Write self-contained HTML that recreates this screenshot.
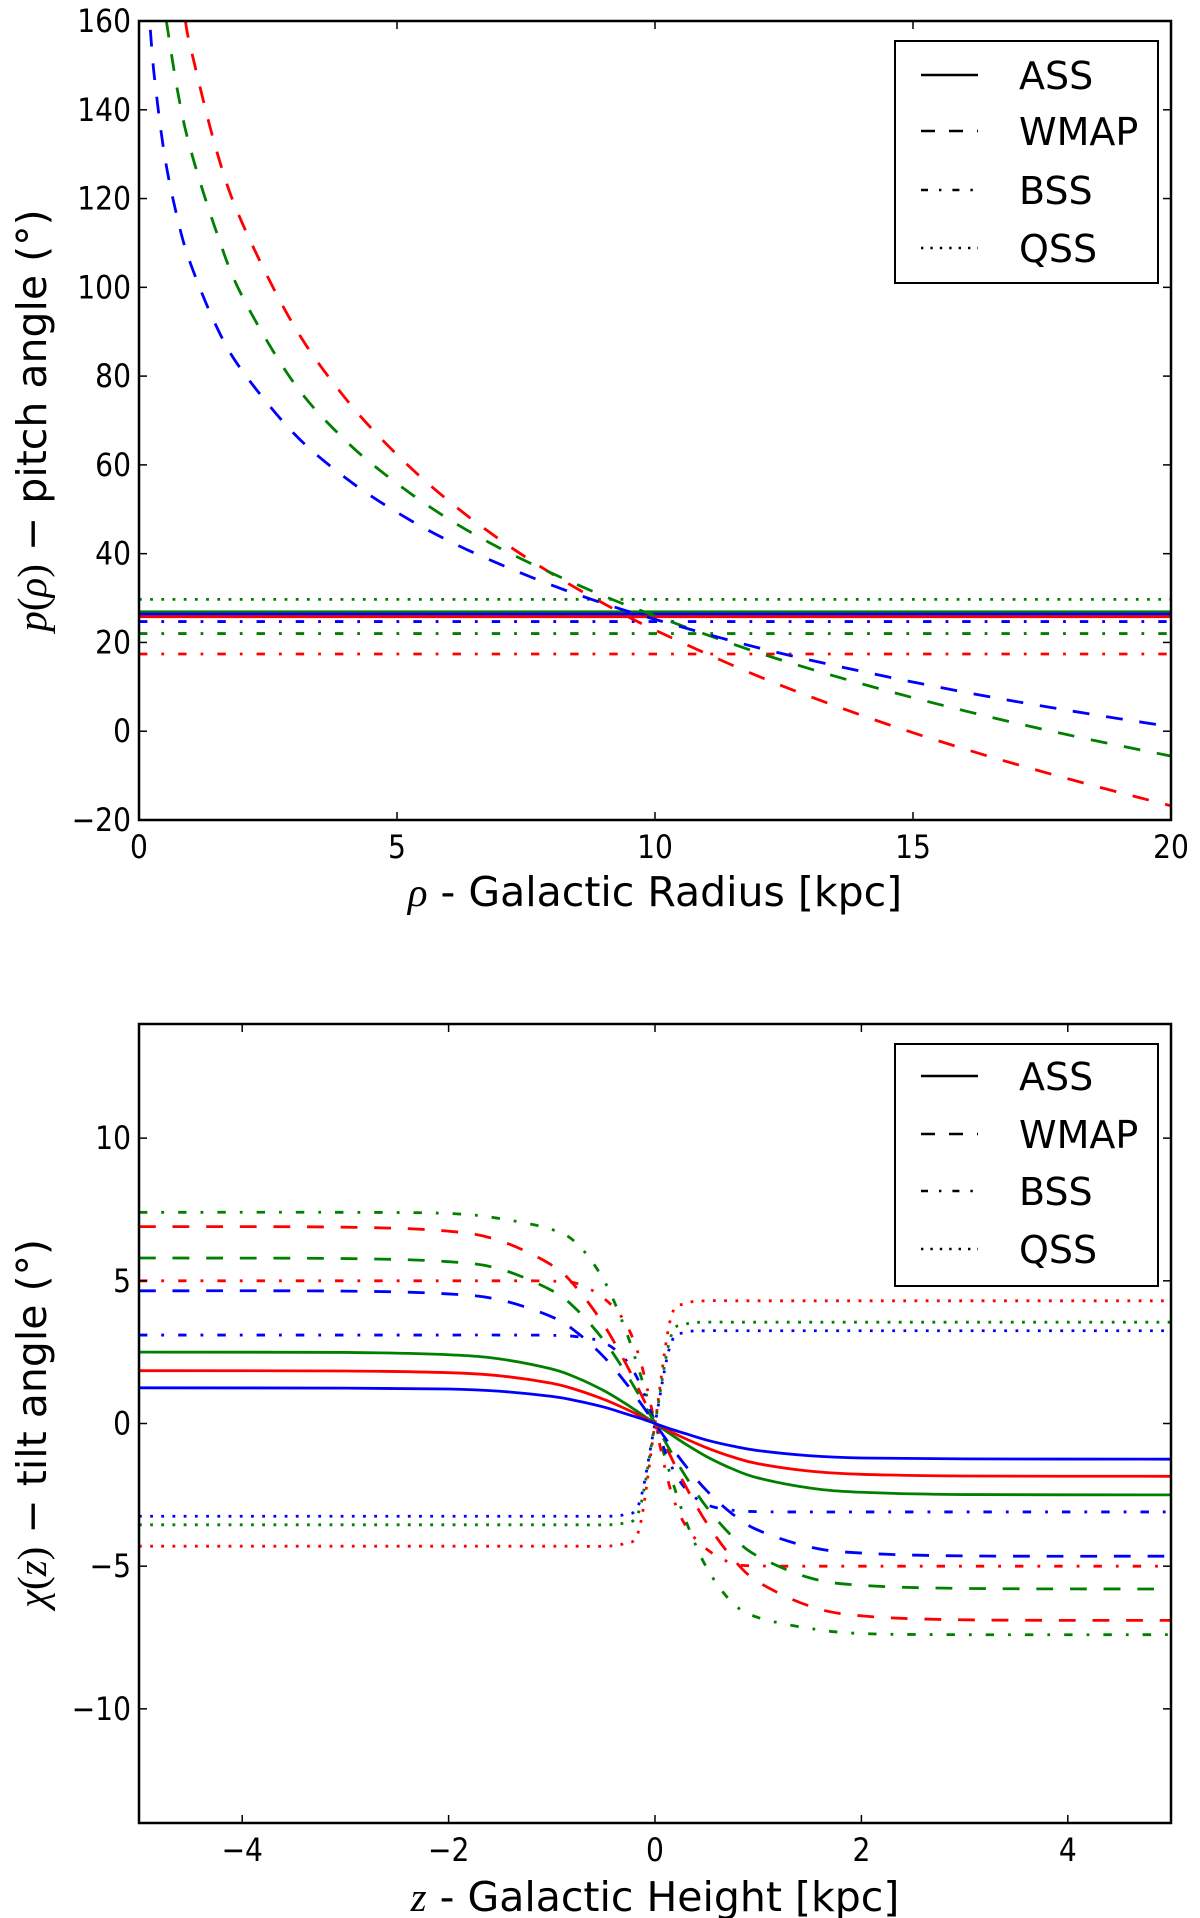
<!DOCTYPE html>
<html><head><meta charset="utf-8">
<style>
html,body{margin:0;padding:0;background:#fff;}
svg{display:block;font-family:"DejaVu Sans","Liberation Sans",sans-serif;}
</style></head>
<body>
<svg id="fig" width="1200" height="1918" viewBox="0 0 1200 1918" xmlns="http://www.w3.org/2000/svg">
<defs>
<clipPath id="clipTop"><rect x="139" y="21" width="1032" height="799"/></clipPath>
<clipPath id="clipBot"><rect x="139" y="1024" width="1032" height="799"/></clipPath>
</defs>
<g id="top"></g>
<g id="bot"></g>
</svg>
<script>
// ---------- Top chart data: pitch angle vs galactic radius ----------
const rhoRed = [0.9,1,1.5,2,3,4,5,6,7,8,9,10,12,14,16,18,20];
const wmapRed = [160,154,130.9,114.5,91.4,75,62.3,51.9,43.1,35.5,28.8,22.8,12.4,3.6,-4,-10.7,-16.8];
const rhoGreen = [0.53,0.75,1,1.5,2,3,4,5,6,7,8,9,10,12,14,16,18,20];
const wmapGreen = [160,144.1,131,112.5,98,78.5,65.5,55.8,47.8,41.2,35.6,30.5,26,17.7,10.7,4.6,-0.8,-5.6];
const rhoBlue = [0.22,0.3,0.5,0.75,1,1.5,2,3,4,5,6,7,8,9,10,12,14,16,18,20];
const wmapBlue = [158,147.2,129.4,115.3,105.3,91.2,81.2,67.1,57.1,49.3,42.9,37.6,32.9,28.8,25.2,18.8,13.5,8.8,4.7,1.0];
const rhoFlat = [0,20];
const assGreenP = [26.9,26.9];
const assBlueP = [26.4,26.4];
const assRedP = [25.8,25.8];
const bssBlueP = [24.7,24.7];
const bssGreenP = [22,22];
const bssRedP = [17.4,17.4];
const qssGreenP = [29.7,29.7];
const topXTicks = [0,5,10,15,20];
const topYTicks = [-20,0,20,40,60,80,100,120,140,160];

// ---------- Bottom chart data: tilt angle vs galactic height ----------
const zVals = [-5,-3,-2,-1.5,-1,-0.75,-0.5,-0.3,-0.15,0,0.15,0.3,0.5,0.75,1,1.5,2,3,5];
const assBlueT = [1.25,1.24,1.21,1.13,0.95,0.79,0.58,0.36,0.19,0,-0.19,-0.36,-0.58,-0.79,-0.95,-1.13,-1.21,-1.24,-1.25];
const assRedT = [1.85,1.84,1.78,1.67,1.41,1.17,0.85,0.54,0.28,0,-0.28,-0.54,-0.85,-1.17,-1.41,-1.67,-1.78,-1.84,-1.85];
const assGreenT = [2.5,2.49,2.41,2.26,1.91,1.59,1.16,0.73,0.37,0,-0.37,-0.73,-1.16,-1.59,-1.91,-2.26,-2.41,-2.49,-2.5];
const wmapRedT = [6.9,6.88,6.74,6.40,5.55,4.71,3.48,2.22,1.14,0,-1.14,-2.22,-3.48,-4.71,-5.55,-6.40,-6.74,-6.88,-6.9];
const wmapGreenT = [5.8,5.78,5.67,5.41,4.66,3.96,2.93,1.87,0.96,0,-0.96,-1.87,-2.93,-3.96,-4.66,-5.41,-5.67,-5.78,-5.8];
const wmapBlueT = [4.65,4.64,4.54,4.33,3.74,3.17,2.35,1.50,0.77,0,-0.77,-1.50,-2.35,-3.17,-3.74,-4.33,-4.54,-4.64,-4.65];
const bssGreenT = [7.4,7.4,7.36,7.18,6.80,6.28,5.05,3.42,1.81,0,-1.81,-3.42,-5.05,-6.28,-6.80,-7.18,-7.36,-7.4,-7.4];
const bssRedT = [5,5,5,5,4.99,4.90,4.40,3.60,2.31,0,-2.31,-3.60,-4.40,-4.90,-4.99,-5,-5,-5,-5];
const bssBlueT = [3.1,3.1,3.1,3.1,3.09,3.04,2.84,2.30,1.43,0,-1.43,-2.30,-2.84,-3.04,-3.09,-3.1,-3.1,-3.1,-3.1];
const qssRedT = [-4.3,-4.3,-4.3,-4.3,-4.3,-4.3,-4.3,-4.2,-3.65,0,3.65,4.2,4.3,4.3,4.3,4.3,4.3,4.3,4.3];
const qssGreenT = [-3.55,-3.55,-3.55,-3.55,-3.55,-3.55,-3.55,-3.48,-3.01,0,3.01,3.48,3.55,3.55,3.55,3.55,3.55,3.55,3.55];
const qssBlueT = [-3.25,-3.25,-3.25,-3.25,-3.25,-3.25,-3.25,-3.19,-2.76,0,2.76,3.19,3.25,3.25,3.25,3.25,3.25,3.25,3.25];
const botXTicks = [-4,-2,0,2,4];
const botYTicks = [-10,-5,0,5,10];

const NS = "http://www.w3.org/2000/svg";
const RED = "#ff0000", GREEN = "#008000", BLUE = "#0000ff";
const LW = 2.8;
const DASH = {solid: "", dashed: "16.8 16.8", dashdot: "8.4 14 2.8 14", dotted: "2.8 8.4"};

function mk(tag, attrs, parent) {
  const e = document.createElementNS(NS, tag);
  for (const k in attrs) e.setAttribute(k, attrs[k]);
  parent.appendChild(e);
  return e;
}
function smoothPath(pts) {
  let d = "M" + pts[0][0].toFixed(2) + "," + pts[0][1].toFixed(2);
  for (let i = 0; i < pts.length - 1; i++) {
    const p0 = pts[i - 1] || pts[i], p1 = pts[i], p2 = pts[i + 1], p3 = pts[i + 2] || p2;
    const c1x = p1[0] + (p2[0] - p0[0]) / 6, c1y = p1[1] + (p2[1] - p0[1]) / 6;
    const c2x = p2[0] - (p3[0] - p1[0]) / 6, c2y = p2[1] - (p3[1] - p1[1]) / 6;
    d += " C" + c1x.toFixed(2) + "," + c1y.toFixed(2) + " " + c2x.toFixed(2) + "," + c2y.toFixed(2) + " " + p2[0].toFixed(2) + "," + p2[1].toFixed(2);
  }
  return d;
}

function buildAxes(g, cfg) {
  const {L, R, T, B, xs, ys, xTicks, yTicks, xTitle, yTitle, xLabelY, xTitleY} = cfg;
  xTicks.forEach(v => {
    const x = xs(v);
    const t1 = mk("line", {x1: x, x2: x, y1: B, y2: B - 8, stroke: "#000", "stroke-width": 1.5}, g);
    
    
    const t2 = mk("line", {x1: x, x2: x, y1: T, y2: T + 8, stroke: "#000", "stroke-width": 1.5}, g);
    
    
    const lb = mk("text", {x: 0, y: 0, "font-size": 32, "text-anchor": "middle", fill: "#000", transform: "translate(" + x + "," + xLabelY + ") scale(0.88,1)"}, g);
    lb.textContent = String(v).replace("-", "\u2212");
    
    
  });
  yTicks.forEach(v => {
    const y = ys(v);
    const t1 = mk("line", {x1: L, x2: L + 8, y1: y, y2: y, stroke: "#000", "stroke-width": 1.5}, g);
    
    
    const t2 = mk("line", {x1: R, x2: R - 8, y1: y, y2: y, stroke: "#000", "stroke-width": 1.5}, g);
    
    
    const lb = mk("text", {x: 0, y: 0, "font-size": 32, "text-anchor": "end", fill: "#000", transform: "translate(" + (L - 8) + "," + (y + 11) + ") scale(0.88,1)"}, g);
    lb.textContent = String(v).replace("-", "\u2212");
    
    
  });
  const xt = mk("text", {x: (L + R) / 2, y: xTitleY, "font-size": 41, "text-anchor": "middle", fill: "#000"}, g);
  xt.innerHTML = xTitle;
  
  
  const cy = (T + B) / 2;
  const yt = mk("text", {x: 0, y: 0, "font-size": 41, "text-anchor": "middle", fill: "#000", transform: "translate(46," + cy + ") rotate(-90)"}, g);
  yt.innerHTML = yTitle;
  
  
}

function drawSeries(g, clip, xs, ys, xArr, yArr, color, style, name) {
  const pts = xArr.map((x, i) => [xs(x), ys(yArr[i])]);
  const p = mk("path", {d: smoothPath(pts), fill: "none", stroke: color, "stroke-width": LW, "clip-path": "url(#" + clip + ")"}, g);
  if (DASH[style]) p.setAttribute("stroke-dasharray", DASH[style]);
  
  
}

function drawFrame(g, L, T, R, B) {
  const f = mk("rect", {x: L, y: T, width: R - L, height: B - T, fill: "none", stroke: "#000", "stroke-width": 2.5}, g);
  
  
}

function drawLegend(g, x, y, w, h, rows) {
  const lg = mk("g", {}, g);
  
  
  const box = mk("rect", {x: x, y: y, width: w, height: h, fill: "#fff", stroke: "#000", "stroke-width": 2}, lg);
  
  
  const labels = ["ASS", "WMAP", "BSS", "QSS"], styles = ["solid", "dashed", "dashdot", "dotted"];
  const legDash = {solid: "", dashed: "14 14", dashdot: "7 11 2.4 11", dotted: "2.4 7"};
  labels.forEach((lab, i) => {
    const ry = rows[i];
    const ln = mk("line", {x1: x + 26, x2: x + 83, y1: ry, y2: ry, stroke: "#000", "stroke-width": 2.4}, lg);
    if (legDash[styles[i]]) ln.setAttribute("stroke-dasharray", legDash[styles[i]]);
    
    
    const t = mk("text", {x: x + 124, y: ry + 14, "font-size": 38, fill: "#000"}, lg);
    t.textContent = lab;
    
    
  });
}

// ---------- Top chart ----------
(function () {
  const g = document.getElementById("top");
  const L = 139, R = 1171, T = 21, B = 820;
  const xs = v => L + (v - 0) / 20 * (R - L);
  const ys = v => B - (v + 20) / 180 * (B - T);
  drawSeries(g, "clipTop", xs, ys, rhoFlat, qssGreenP, GREEN, "dotted", "qss-green-line");
  drawSeries(g, "clipTop", xs, ys, rhoFlat, assGreenP, GREEN, "solid", "ass-green-line");
  drawSeries(g, "clipTop", xs, ys, rhoFlat, assBlueP, BLUE, "solid", "ass-blue-line");
  drawSeries(g, "clipTop", xs, ys, rhoFlat, assRedP, RED, "solid", "ass-red-line");
  drawSeries(g, "clipTop", xs, ys, rhoFlat, bssBlueP, BLUE, "dashdot", "bss-blue-line");
  drawSeries(g, "clipTop", xs, ys, rhoFlat, bssGreenP, GREEN, "dashdot", "bss-green-line");
  drawSeries(g, "clipTop", xs, ys, rhoFlat, bssRedP, RED, "dashdot", "bss-red-line");
  drawSeries(g, "clipTop", xs, ys, rhoRed, wmapRed, RED, "dashed", "wmap-red-curve");
  drawSeries(g, "clipTop", xs, ys, rhoGreen, wmapGreen, GREEN, "dashed", "wmap-green-curve");
  drawSeries(g, "clipTop", xs, ys, rhoBlue, wmapBlue, BLUE, "dashed", "wmap-blue-curve");
  drawFrame(g, L, T, R, B);
  buildAxes(g, {L, R, T, B, xs, ys, xTicks: topXTicks, yTicks: topYTicks,
    xTitle: '<tspan font-family="Liberation Serif, serif" font-style="italic">ρ</tspan> - Galactic Radius [kpc]',
    yTitle: '<tspan font-family="Liberation Serif, serif" font-style="italic">p</tspan><tspan font-family="Liberation Serif, serif">(</tspan><tspan font-family="Liberation Serif, serif" font-style="italic">ρ</tspan><tspan font-family="Liberation Serif, serif">)</tspan> − pitch angle (°)',
    xLabelY: 858, xTitleY: 906});
  drawLegend(g, 895, 41, 263, 242, [75, 131, 190, 248]);
})();

// ---------- Bottom chart ----------
(function () {
  const g = document.getElementById("bot");
  const L = 139, R = 1171, T = 1024, B = 1823;
  const xs = v => L + (v + 5) / 10 * (R - L);
  const ys = v => B - (v + 14) / 28 * (B - T);
  const S = [
    [qssRedT, RED, "dotted", "qss-red-curve"], [qssGreenT, GREEN, "dotted", "qss-green-curve"], [qssBlueT, BLUE, "dotted", "qss-blue-curve"],
    [bssGreenT, GREEN, "dashdot", "bss-green-curve"], [bssRedT, RED, "dashdot", "bss-red-curve"], [bssBlueT, BLUE, "dashdot", "bss-blue-curve"],
    [wmapRedT, RED, "dashed", "wmap-red-curve"], [wmapGreenT, GREEN, "dashed", "wmap-green-curve"], [wmapBlueT, BLUE, "dashed", "wmap-blue-curve"],
    [assGreenT, GREEN, "solid", "ass-green-curve"], [assRedT, RED, "solid", "ass-red-curve"], [assBlueT, BLUE, "solid", "ass-blue-curve"]
  ];
  S.forEach(s => drawSeries(g, "clipBot", xs, ys, zVals, s[0], s[1], s[2], s[3]));
  drawFrame(g, L, T, R, B);
  buildAxes(g, {L, R, T, B, xs, ys, xTicks: botXTicks, yTicks: botYTicks,
    xTitle: '<tspan font-family="Liberation Serif, serif" font-style="italic">z</tspan> - Galactic Height [kpc]',
    yTitle: '<tspan font-family="Liberation Serif, serif" font-style="italic">χ</tspan><tspan font-family="Liberation Serif, serif">(</tspan><tspan font-family="Liberation Serif, serif" font-style="italic">z</tspan><tspan font-family="Liberation Serif, serif">)</tspan> − tilt angle (°)',
    xLabelY: 1861, xTitleY: 1911});
  drawLegend(g, 895, 1044, 263, 242, [1076, 1134, 1191, 1249]);
})();
</script>
</body></html>
